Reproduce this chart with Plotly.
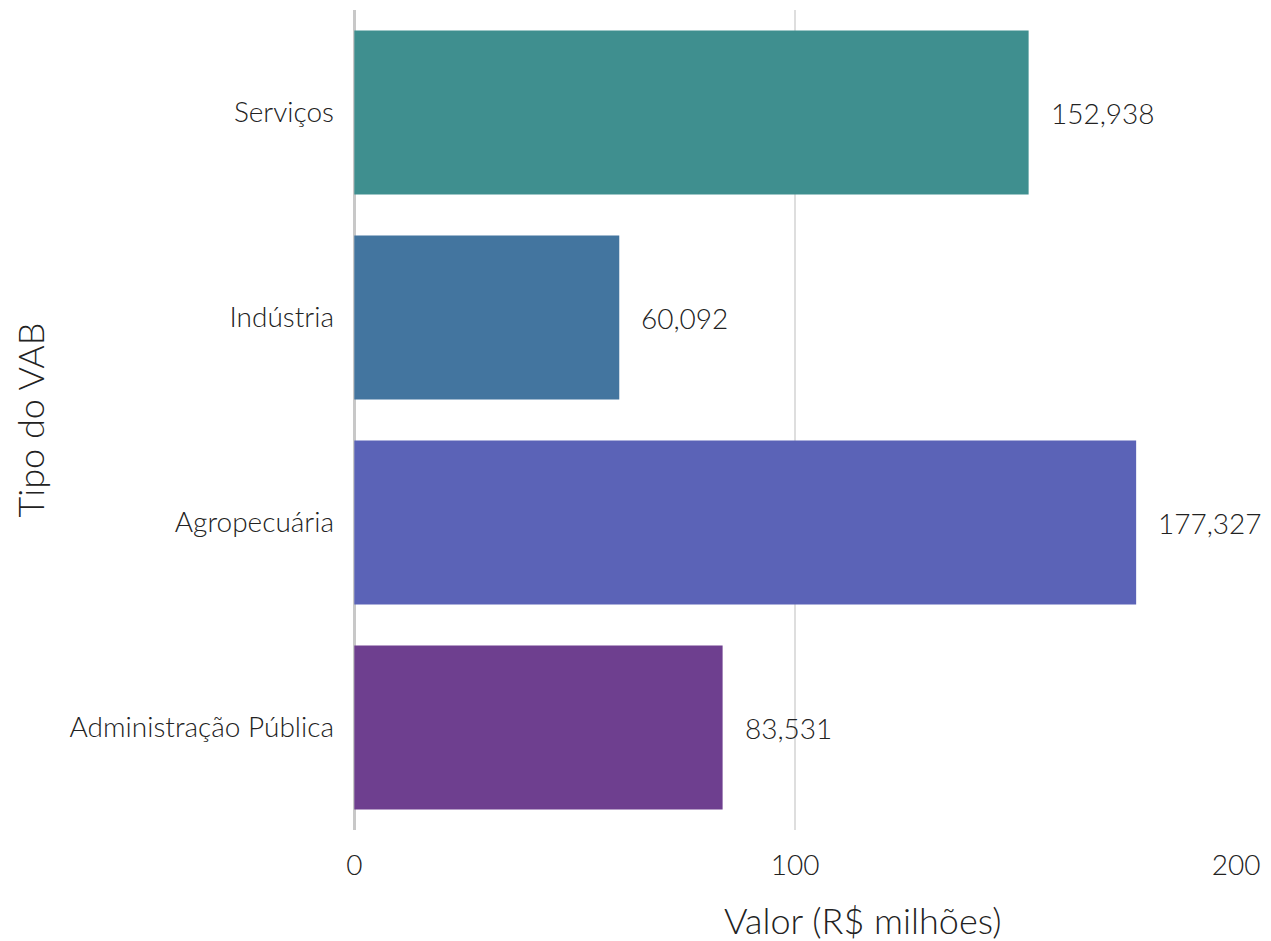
import plotly.graph_objects as go

categories = ["Serviços", "Indústria", "Agropecuária", "Administração Pública"]
values = [152.938, 60.092, 177.327, 83.531]
colors = ["#3F8F8F", "#43759F", "#5B63B7", "#6E3F8F"]
x_ticks = [0, 100, 200]

FONT = "Lato"

fig = go.Figure()
fig.add_trace(go.Bar(
    x=values, y=categories, orientation="h",
    marker=dict(color=colors, line=dict(width=0)),
    showlegend=False,
))

for v, c in zip(values, categories):
    fig.add_annotation(
        x=v, y=c, text=f"{v:,.3f}".replace(".", "#").replace(",", ".").replace("#", ","),
        showarrow=False, xanchor="left", xshift=20,
        font=dict(family=FONT, size=28, color="#222", weight=300),
    )

# x-axis title (offset to the right as in the reference)
fig.add_annotation(
    x=0.5758, y=-0.1098, xref="paper", yref="paper",
    xanchor="center", yanchor="middle", showarrow=False,
    text="Valor (R$ milhões)",
    font=dict(family=FONT, size=36, color="#222", weight=300),
)

fig.update_layout(
    width=1263, height=933,
    margin=dict(l=345, r=34, t=2, b=111),
    plot_bgcolor="white", paper_bgcolor="white",
    bargap=0.2,
    font=dict(family=FONT, size=28, color="#222", weight=300),
    xaxis=dict(
        range=[-0.3, 200.2], tickvals=x_ticks, ticktext=[str(t) for t in x_ticks],
        showgrid=True, gridcolor="#dedede", gridwidth=2,
        zeroline=True, zerolinecolor="#c8c8c8", zerolinewidth=3,
        showline=False, ticks="", ticklabelstandoff=16, automargin=False,
        tickfont=dict(size=28, family=FONT, weight=300),
    ),
    yaxis=dict(
        categoryorder="array", categoryarray=categories, autorange="reversed",
        showgrid=False, zeroline=False, showline=False, ticks="",
        ticklabelstandoff=18, automargin=False,
        title=dict(text="Tipo do VAB", font=dict(size=36, family=FONT, weight=300), standoff=38),
        tickfont=dict(size=28, family=FONT, weight=300),
    ),
)

fig.write_html("out.html")
